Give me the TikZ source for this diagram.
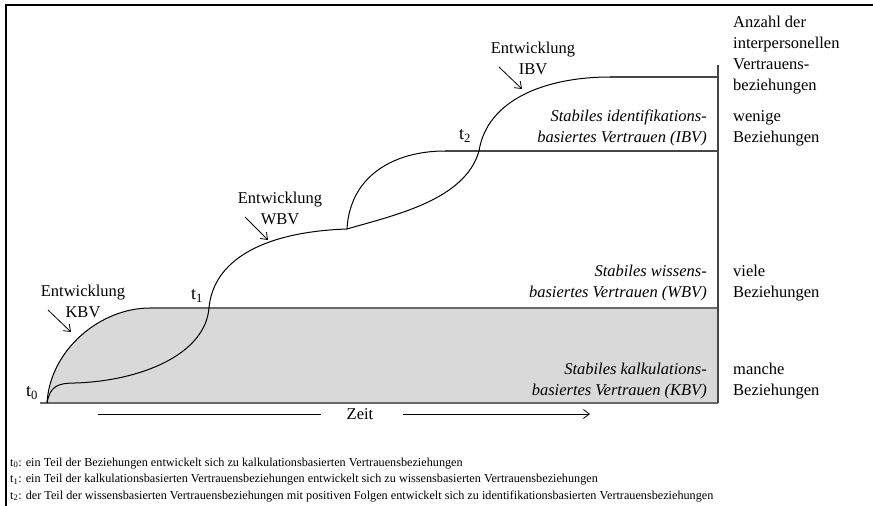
\documentclass[tikz,border=0pt]{standalone}
\usepackage{fontspec}
\setmainfont{Liberation Serif}
\usetikzlibrary{arrows.meta}

\definecolor{kbvgray}{RGB}{217,217,217}
\definecolor{levelgray}{RGB}{105,105,105}
\definecolor{edgegray}{RGB}{70,70,70}

\begin{document}
\begin{tikzpicture}[x=1pt,y=-1pt,
  curve/.style={black, line width=1pt},
  level/.style={levelgray, line width=1.6pt},
  edge/.style={edgegray, line width=1.1pt},
  lbl/.style={font=\fontsize{16.5}{21}\selectfont, inner sep=0pt},
  tmark/.style={font=\fontsize{18}{21}\selectfont, inner sep=0pt},
  stab/.style={font=\fontsize{16.5}{21}\selectfont\itshape, inner sep=0pt,
               align=right, anchor=east},
  anz/.style={lbl, align=left, anchor=west},
  hint/.style={-{Straight Barb[length=6pt,width=9pt]}, line width=0.8pt},
  note/.style={font=\fontsize{12.2}{16.5}\selectfont, inner sep=0pt, anchor=base west}
]
\useasboundingbox (0,0) rectangle (873,506);

% frame
\draw[line width=2.2pt] (6,506) -- (6,5) -- (873,5);

% key points
\coordinate (t0)   at (47,403);
\coordinate (kbv)  at (150,308);
\coordinate (t1)   at (209,308);
\coordinate (wbv)  at (347,229);
\coordinate (ibv)  at (445,151);
\coordinate (t2)   at (479,151);
\coordinate (top)  at (610,77);

% stable KBV area
\fill[kbvgray] (t0) .. controls (50,350) and (100,308) .. (kbv) -- (718,308) -- (718,403) -- cycle;
\draw[level] (40,403) -- (718,403);
\draw[level] (kbv) -- (718,308);
\draw[edge] (718,65) -- (718,403);
\draw[edge] (ibv) -- (718,151);
\draw[edge] (top) -- (718,77);

% development curves
\draw[curve] (t0) .. controls (50,350) and (100,308) .. (kbv);
\draw[curve] (t0) .. controls (50,386) and (58,383) .. (75,383)
  .. controls (140,381) and (205,355) .. (t1)
  .. controls (213,262) and (260,232) .. (wbv);
\draw[curve] (wbv) .. controls (350,175) and (395,151) .. (ibv);
\draw[curve] (wbv) .. controls (395,215) and (465,200) .. (t2)
  .. controls (487,100) and (545,77) .. (top);

% time marks
\node[tmark] (t0lab) at (32,393) {t\textsubscript{0}};
\node[tmark] (t1lab) at (197,296) {t\textsubscript{1}};
\node[tmark] (t2lab) at (465,136) {t\textsubscript{2}};

% development labels
\node[lbl, align=center] (entkbv) at (83,301) {Entwicklung\\KBV};
\node[lbl, align=center] (entwbv) at (280,208) {Entwicklung\\WBV};
\node[lbl, align=center] (entibv) at (533,58)  {Entwicklung\\IBV};
\draw[hint] (48,310) -- (71,332);
\draw[hint] (245,217) -- (268,240);
\draw[hint] (499,67) -- (522,89);

% stable levels
\node[stab] (sibv) at (707,128) {Stabiles identifikations-\\basiertes Vertrauen (IBV)};
\node[stab] (swbv) at (707,283) {Stabiles wissens-\\basiertes Vertrauen (WBV)};
\node[stab] (skbv) at (707,381) {Stabiles kalkulations-\\basiertes Vertrauen (KBV)};

% right axis
\node[anz] (anzahl)  at (733,55)  {Anzahl der\\interpersonellen\\Vertrauens-\\beziehungen};
\node[anz] (wenige)  at (733,128) {wenige\\Beziehungen};
\node[anz] (viele)   at (733,283) {viele\\Beziehungen};
\node[anz] (manche)  at (733,381) {manche\\Beziehungen};

% time axis
\node[lbl] (zeit) at (360,414) {Zeit};
\coordinate (zl) at (98,414);
\coordinate (zr) at (590,414);
\draw[line width=0.8pt] (zl) -- ([xshift=-26pt]zeit.west);
\draw[hint] ([xshift=30pt]zeit.east) -- (zr);

% notes
\node[note] (n0) at (10,466) {t\textsubscript{0}: ein Teil der Beziehungen entwickelt sich zu kalkulationsbasierten Vertrauensbeziehungen};
\node[note] (n1) at (10,482.5) {t\textsubscript{1}: ein Teil der kalkulationsbasierten Vertrauensbeziehungen entwickelt sich zu wissensbasierten Vertrauensbeziehungen};
\node[note] (n2) at (10,499) {t\textsubscript{2}: der Teil der wissensbasierten Vertrauensbeziehungen mit positiven Folgen entwickelt sich zu identifikationsbasierten Vertrauensbeziehungen};
\end{tikzpicture}
\end{document}
